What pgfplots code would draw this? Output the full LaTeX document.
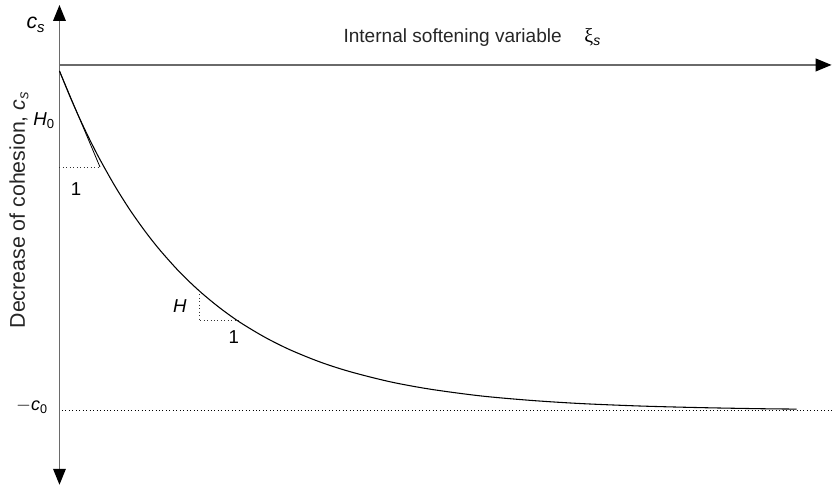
\documentclass[border=0pt]{standalone}
\usepackage{pgfplots}
\pgfplotsset{compat=1.18}
\usepackage{fontspec}
\setmainfont{Liberation Sans}
\newfontfamily\serifgr{Liberation Serif}
\usetikzlibrary{arrows.meta}
\definecolor{axgray}{HTML}{6A6A6A}
\begin{document}
\begin{tikzpicture}
\begin{axis}[
  width=624.75pt, height=366pt, scale only axis,
  xmin=0, xmax=833, ymin=0, ymax=488,
  hide axis, clip=false,
]
% invisible frame for bounding box
\draw[draw=none] (axis cs:0,0) rectangle (axis cs:833,488);
% axes
\draw[axgray, line width=1pt, {Triangle[length=12pt,width=9.5pt,color=black]}-{Triangle[length=12pt,width=9.5pt,color=black]}] (axis cs:59.5,3) -- (axis cs:59.5,483);
\draw[axgray, line width=1.4pt, -{Triangle[length=12pt,width=9.5pt,color=black]}] (axis cs:59.5,423) -- (axis cs:832,423);
% -c0 asymptote
\addplot[black, line width=0.6pt, dotted] coordinates {(62,77.3) (833,77.3)};
% softening curve
\addplot[black, line width=0.8pt, smooth] coordinates {
(59.5,417.0) (70,391.4) (80,368.8) (90,347.8) (100,328.4) (115,301.8)
(130,278.0) (145,256.8) (160,237.8) (180,215.5) (200,196.4) (220,179.9)
(240,165.6) (265,150.6) (290,138.1) (320,125.9) (350,116.2) (390,106.1)
(430,98.7) (480,92.0) (530,87.5) (580,84.3) (640,81.8) (700,80.2)
(760,79.1) (797,78.7)};
% tangent at start
\addplot[black, line width=0.6pt] coordinates {(59.5,417) (100,321)};
\addplot[black!80, line width=0.6pt, dotted] coordinates {(59.5,321) (100,321)};
% second triangle
\addplot[black!80, line width=0.6pt, dotted] coordinates {(199,197) (199,167) (240,167)};
% labels
\node[font=\fontsize{16}{19}\selectfont\itshape] at (axis cs:36,463) {c\textsubscript{s}};
\node[anchor=base west, font=\fontsize{14.3}{17}\selectfont, text=black!85] at (axis cs:339,445) {Internal softening variable};
\node[font=\fontsize{15}{18}\selectfont] at (axis cs:593,451) {{\serifgr ξ}\textsubscript{\itshape s}};
\node[rotate=90, font=\fontsize{16}{19}\selectfont, text=black!85] at (axis cs:19,278) {Decrease of cohesion, \textit{c}\textsubscript{\itshape s}};
\node[font=\fontsize{14}{17}\selectfont] at (axis cs:44,367) {\textit{H}\textsubscript{0}};
\node[font=\fontsize{14}{17}\selectfont] at (axis cs:76,299) {1};
\node[font=\fontsize{14}{17}\selectfont\itshape] at (axis cs:180,182) {H};
\node[font=\fontsize{14}{17}\selectfont] at (axis cs:234,151) {1};
\node[font=\fontsize{13.5}{16}\selectfont] at (axis cs:32,81) {$-$\textit{c}\textsubscript{0}};
\end{axis}
\end{tikzpicture}
\end{document}
